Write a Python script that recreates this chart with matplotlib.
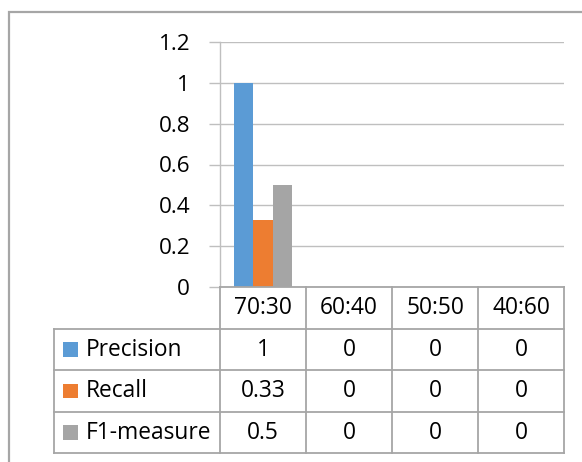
import matplotlib
matplotlib.use("Agg")
import matplotlib.pyplot as plt
from matplotlib.patches import Rectangle
from matplotlib.lines import Line2D

categories = ["70:30", "60:40", "50:50", "40:60"]
series_names = ["Precision", "Recall", "F1-measure"]
precision = [1, 0, 0, 0]
recall = [0.33, 0, 0, 0]
f1_measure = [0.5, 0, 0, 0]
table_text = [["1", "0", "0", "0"],
              ["0.33", "0", "0", "0"],
              ["0.5", "0", "0", "0"]]
yticks = [0, 0.2, 0.4, 0.6, 0.8, 1.0, 1.2]
ytick_labels = ["0", "0.2", "0.4", "0.6", "0.8", "1", "1.2"]

colors = ["#5b9bd5", "#ed7d31", "#a5a5a5"]
grid_c = "#bfbfbf"
line_c = "#a6a6a6"
FONT = "Open Sans"

W, H = 582, 462
fig = plt.figure(figsize=(W / 100, H / 100), dpi=100)

# outer chart border (extends beyond right / bottom edge)
fig.patches.append(Rectangle((8.5 / W, -0.1), 1.2, 1 - 12.5 / H + 0.1,
                             transform=fig.transFigure, fill=False,
                             edgecolor=line_c, linewidth=1.6))

px_left, px_right, px_top, px_bottom = 220, 564, 41.7, 287.3
ax = fig.add_axes([px_left / W, 1 - px_bottom / H,
                   (px_right - px_left) / W, (px_bottom - px_top) / H])
ax.set_xlim(-0.5, len(categories) - 0.5)
ax.set_ylim(0, 1.2)

bw = 0.223
series = [precision, recall, f1_measure]
xs = list(range(len(categories)))
for i, (vals, c) in enumerate(zip(series, colors)):
    ax.bar([x + (i - 1) * bw for x in xs], vals, width=bw, color=c, zorder=3)

ax.set_yticks(yticks)
ax.set_yticklabels(ytick_labels, fontsize=16.2, family=FONT, color="black")
ax.yaxis.grid(True, color=grid_c, linewidth=1.0, zorder=0)
ax.tick_params(axis="y", length=8, color=grid_c, width=1.0, pad=13.5)
ax.set_xticks([])
for s in ["top", "right", "bottom"]:
    ax.spines[s].set_visible(False)
ax.spines["left"].set_color(grid_c)
ax.spines["left"].set_linewidth(1.0)
ax.set_facecolor("none")

# data table
row_h = 41.5
n_rows = 1 + len(series_names)
tab_left = 54
units_left = (px_left - tab_left) / ((px_right - px_left) / len(categories))
tax = fig.add_axes([tab_left / W, 1 - (px_bottom + n_rows * row_h) / H,
                    (px_right - tab_left) / W, n_rows * row_h / H])
tax.set_xlim(-0.5 - units_left, len(categories) - 0.5)
tax.set_ylim(n_rows, 0)
tax.axis("off")

lw = 1.3
x0 = -0.5
x_end = len(categories) - 0.5
xl = -0.5 - units_left
# horizontal lines
tax.add_line(Line2D([x0, x_end], [0, 0], color=line_c, lw=lw, clip_on=False))
for r in range(1, n_rows + 1):
    tax.add_line(Line2D([xl, x_end], [r, r], color=line_c, lw=lw, clip_on=False))
# vertical lines
for k in range(len(categories) + 1):
    tax.add_line(Line2D([x0 + k, x0 + k], [0, n_rows], color=line_c, lw=lw, clip_on=False))
tax.add_line(Line2D([xl, xl], [1, n_rows], color=line_c, lw=lw, clip_on=False))

fs = 16.4
for j, cat in enumerate(categories):
    tax.text(j, 0.5, cat, ha="center", va="center", fontsize=fs, family=FONT)
for i, name in enumerate(series_names):
    tax.add_patch(Rectangle((xl + 0.11, i + 1.5 - 0.17), 0.165, 0.34,
                            facecolor=colors[i], edgecolor="none", clip_on=False))
    tax.text(xl + 0.37, i + 1.5, name, ha="left", va="center", fontsize=fs, family=FONT)
    for j in range(len(categories)):
        tax.text(j, i + 1.5, table_text[i][j], ha="center", va="center",
                 fontsize=fs, family=FONT)

fig.savefig("out.png", dpi=100)
